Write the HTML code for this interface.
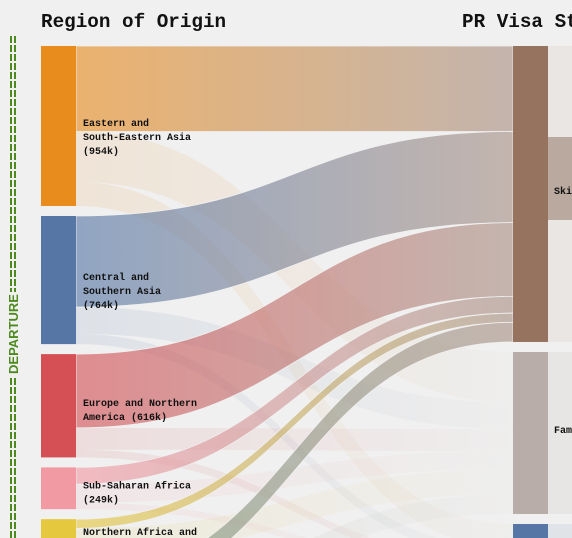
<!DOCTYPE html>
<html><head><meta charset="utf-8">
<style>
html,body{margin:0;padding:0;background:#f0f0f0;overflow:hidden;width:572px;height:538px;}
svg{display:block;font-family:"Liberation Mono",monospace;}
</style></head>
<body>
<svg id="chart" width="572" height="538" viewBox="0 0 572 538" xmlns="http://www.w3.org/2000/svg">
<defs id="defs"></defs>
<rect x="0" y="0" width="572" height="538" fill="#f0f0f0"/>
<text x="41" y="27" font-size="19.3" font-weight="bold" fill="#111">Region of Origin</text>
<text x="462" y="27" font-size="19.3" font-weight="bold" fill="#111">PR Visa Stream</text>
<g>
<line x1="11" y1="36" x2="11" y2="292" stroke="#4d8a1e" stroke-width="2" stroke-dasharray="7 2"/>
<line x1="15" y1="36" x2="15" y2="292" stroke="#4d8a1e" stroke-width="2" stroke-dasharray="7 2"/>
<line x1="11" y1="378" x2="11" y2="538" stroke="#4d8a1e" stroke-width="2" stroke-dasharray="7 2"/>
<line x1="15" y1="378" x2="15" y2="538" stroke="#4d8a1e" stroke-width="2" stroke-dasharray="7 2"/>
<text x="0" y="0" transform="translate(18,334) rotate(-90)" text-anchor="middle" font-family="Liberation Sans,sans-serif" font-size="13" font-weight="bold" fill="#4d8a1e">DEPARTURE</text>
</g>
<g id="third">
<rect x="548" y="46" width="24" height="296" fill="#e9e6e3"/>
<rect x="548" y="137" width="24" height="83" fill="#b9a99f"/>
<rect x="548" y="352" width="24" height="162" fill="#e8e6e5"/>
<rect x="548" y="524" width="24" height="14" fill="#e0e3e8"/>
<text x="554" y="194" font-size="10" font-weight="bold" fill="#111">Skilled</text>
<text x="554" y="433" font-size="10" font-weight="bold" fill="#111">Family</text>
</g>
<g id="links"></g>
<g id="nodes"></g>
</svg>
<script>
const sources = ["Eastern and South-Eastern Asia","Central and Southern Asia","Europe and Northern America","Sub-Saharan Africa","Northern Africa and Western Asia","Latin America"];
const sourceLabels = [["Eastern and","South-Eastern Asia","(954k)"],["Central and","Southern Asia","(764k)"],["Europe and Northern","America (616k)"],["Sub-Saharan Africa","(249k)"],["Northern Africa and"],[]];
const sourceColors = ["#e88c1e","#5677a6","#d45055","#f29aa4","#e6c83e","#7a9a80"];
const targets = ["Skilled","Family","Humanitarian"];
const targetColors = ["#95735e","#b8ada8","#5677a6"];
const flowSrc =   [0,0,0, 1,1,1, 2,2,2, 3,3,3, 4,4,4, 5,5];
const flowTgt =   [0,1,2, 0,1,2, 0,1,2, 0,1,2, 0,1,2, 0,1];
const flowVal =   [510,300,144, 543,160,61, 440,130,46, 100,110,39, 55,150,95, 117,116];

const scale = 0.1677, gap = 10, top0 = 46;
const xL = 41, xR = 513, nw = 35;
const NS = "http://www.w3.org/2000/svg";
const defs = document.getElementById('defs');
const gLinks = document.getElementById('links');
const gNodes = document.getElementById('nodes');

function totals(n, key){ const t=new Array(n).fill(0); flowVal.forEach((v,i)=>t[key[i]]+=v); return t; }
const sTot = totals(sources.length, flowSrc);
const tTot = totals(targets.length, flowTgt);
function yPos(tot){ const y=[]; let c=top0; tot.forEach(v=>{y.push(c); c+=v*scale+gap;}); return y; }
const sY = yPos(sTot), tY = yPos(tTot);
const sOff = sY.slice(), tOff = tY.slice();

const order = flowVal.map((v,i)=>i);
const geo = [];
order.forEach(i=>{
  const h = flowVal[i]*scale;
  geo[i] = {y0:sOff[flowSrc[i]], h:h};
  sOff[flowSrc[i]] += h;
});
order.slice().sort((a,b)=>flowTgt[a]-flowTgt[b]||flowSrc[a]-flowSrc[b]).forEach(i=>{
  geo[i].y1 = tOff[flowTgt[i]];
  tOff[flowTgt[i]] += geo[i].h;
});

const drawOrder = order.slice().sort((a,b)=>(flowTgt[a]===0)-(flowTgt[b]===0));
drawOrder.forEach(i=>{
  const g = geo[i], x0 = xL+nw, x1 = xR, mx=(x0+x1)/2;
  const main = flowTgt[i]===0;
  const gid = 'g'+i;
  const lg = document.createElementNS(NS,'linearGradient');
  lg.setAttribute('id',gid); lg.setAttribute('x1','0'); lg.setAttribute('x2','1'); lg.setAttribute('y1','0'); lg.setAttribute('y2','0');
  const s1=document.createElementNS(NS,'stop'); s1.setAttribute('offset','0');
  s1.setAttribute('stop-color', sourceColors[flowSrc[i]]);
  const s2=document.createElementNS(NS,'stop'); s2.setAttribute('offset','1');
  s2.setAttribute('stop-color', main ? '#a89084' : '#e2dcd7');
  lg.appendChild(s1); lg.appendChild(s2); defs.appendChild(lg);
  const p = document.createElementNS(NS,'path');
  const d = `M${x0},${g.y0} C${mx},${g.y0} ${mx},${g.y1} ${x1},${g.y1} L${x1},${g.y1+g.h} C${mx},${g.y1+g.h} ${mx},${g.y0+g.h} ${x0},${g.y0+g.h} Z`;
  p.setAttribute('d',d);
  p.setAttribute('fill','url(#'+gid+')');
  p.setAttribute('fill-opacity', main ? 0.62 : 0.12);
  p.setAttribute('stroke', main ? '#f0f0f0' : 'none');
  p.setAttribute('stroke-width', main ? 0.8 : 0);
  
  
  gLinks.appendChild(p);
});

sources.forEach((s,k)=>{
  const r = document.createElementNS(NS,'rect');
  r.setAttribute('x',xL); r.setAttribute('y',sY[k]); r.setAttribute('width',nw); r.setAttribute('height',Math.min(sTot[k]*scale, 538-sY[k]));
  r.setAttribute('fill',sourceColors[k]);
  
  
  gNodes.appendChild(r);
  const lines = sourceLabels[k];
  if(!lines.length) return;
  const cy = sY[k]+sTot[k]*scale/2;
  const t = document.createElementNS(NS,'text');
  t.setAttribute('x',83); t.setAttribute('font-size','10'); t.setAttribute('font-weight','bold'); t.setAttribute('fill','#111');
  
  
  const y0 = k===4 ? 535 : cy;
  lines.forEach((ln,j)=>{ const ts=document.createElementNS(NS,'tspan'); ts.setAttribute('x',83); ts.setAttribute('y',y0+j*14); ts.textContent=ln; t.appendChild(ts); });
  gNodes.appendChild(t);
});
targets.forEach((s,k)=>{
  const r = document.createElementNS(NS,'rect');
  r.setAttribute('x',xR); r.setAttribute('y',tY[k]); r.setAttribute('width',nw); r.setAttribute('height',Math.min(tTot[k]*scale, 538-tY[k]));
  r.setAttribute('fill',targetColors[k]);
  
  
  gNodes.appendChild(r);
});
</script>
</body></html>
